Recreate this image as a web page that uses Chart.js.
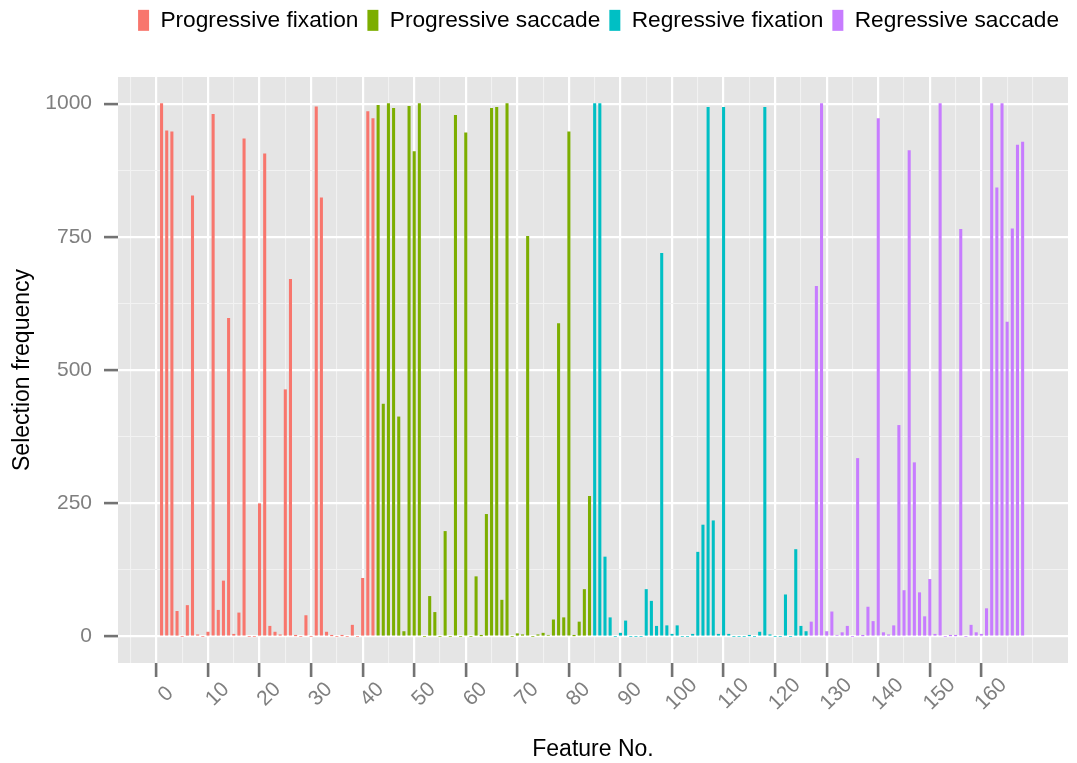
<!DOCTYPE html>
<html>
<head>
<meta charset="utf-8">
<script src="https://cdn.jsdelivr.net/npm/chart.js@4.4.1/dist/chart.umd.min.js"></script>
<style>
  html, body { margin: 0; padding: 0; background: #fff; }
</style>
</head>
<body>
<canvas id="chart" width="1077" height="763"></canvas>
<script>
// Series names and colours (ggplot default hues)
const groupNames = ['Progressive fixation', 'Progressive saccade', 'Regressive fixation', 'Regressive saccade'];
const groupColors = ['#F8766D', '#7CAE00', '#00BFC4', '#C77CFF'];
// first feature number of each group (42 features per group)
const groupStart = [1, 43, 85, 127];

// Selection frequency, features 1-42
const progFixation = [1000, 949, 947, 47, 0, 58, 827, 3, 0, 8,
                      980, 49, 104, 597, 4, 44, 934, 0, 0, 249,
                      906, 19, 8, 3, 463, 670, 1, 0, 39, 0,
                      994, 823, 8, 1, 0, 1, 0, 21, 0, 109,
                      985, 972];
// features 43-84
const progSaccade = [997, 436, 1000, 991, 412, 9, 995, 910, 1000, 0,
                     75, 45, 0, 197, 0, 978, 0, 945, 0, 112,
                     1, 229, 991, 993, 68, 1000, 0, 5, 3, 751,
                     0, 3, 6, 2, 31, 587, 35, 947, 1, 27,
                     88, 263];
// features 85-126
const regFixation = [1000, 1000, 149, 35, 0, 6, 29, 0, 0, 0,
                     88, 66, 19, 719, 20, 4, 20, 0, 0, 4,
                     158, 209, 993, 217, 4, 993, 4, 0, 0, 0,
                     1, 0, 8, 993, 3, 0, 0, 78, 0, 163,
                     19, 9];
// features 127-168
const regSaccade = [27, 657, 1000, 9, 46, 2, 7, 19, 0, 334,
                    1, 55, 28, 972, 7, 3, 20, 396, 86, 912,
                    326, 82, 37, 107, 4, 1000, 0, 1, 1, 764,
                    0, 21, 7, 4, 52, 1000, 842, 1000, 590, 765,
                    922, 928];

const xTickLabels = [0, 10, 20, 30, 40, 50, 60, 70, 80, 90, 100, 110, 120, 130, 140, 150, 160];
const yTickLabels = [0, 250, 500, 750, 1000];

const seriesValues = [progFixation, progSaccade, regFixation, regSaccade];

// grid positions: majors at the labels, minors half way between
const xGrid = [];
for (let v = -5; v <= 170; v += 5) xGrid.push(v);
const yGrid = [];
for (let v = 0; v <= 1000; v += 125) yGrid.push(v);

const FONT = 'Liberation Sans, Arial, Helvetica, sans-serif';
const isMajorX = v => xTickLabels.includes(v);
const isMajorY = v => yTickLabels.includes(v);

// pad short labels with trailing spaces so rotated labels sit centred on the tick
// (a space is half a digit wide)
const padLabel = v => {
    const s = String(v);
    return s + ' '.repeat(3 - s.length);
};

// grey panel behind the plot
const panelBg = {
    id: 'panelBg',
    beforeDraw(chart) {
        const { ctx, chartArea } = chart;
        ctx.save();
        ctx.fillStyle = '#fff';
        ctx.fillRect(0, 0, chart.width, chart.height);
        ctx.fillStyle = '#E5E5E5';
        ctx.fillRect(chartArea.left, chartArea.top, chartArea.right - chartArea.left, chartArea.bottom - chartArea.top);
        ctx.restore();
    }
};

// give the legend a fixed block height so the panel starts where it should
const legendBlock = {
    id: 'legendBlock',
    beforeInit(chart) {
        const fit = chart.legend.fit;
        chart.legend.fit = function () {
            fit.call(this);
            this.height = 77;
        };
    }
};

const datasets = seriesValues.map((vals, g) => ({
    label: groupNames[g],
    data: vals.map((v, i) => ({ x: groupStart[g] + i, y: v })),
    backgroundColor: groupColors[g],
    borderWidth: 0,
    barThickness: 2.4,
    grouped: false
}));

new Chart(document.getElementById('chart'), {
    type: 'bar',
    data: { datasets: datasets },
    plugins: [panelBg, legendBlock],
    options: {
        responsive: false,
        animation: false,
        layout: { padding: { left: 0, right: 9, top: 0, bottom: 0 } },
        plugins: {
            legend: {
                position: 'top',
                align: 'end',
                labels: {
                    boxWidth: 11,
                    boxHeight: 21,
                    padding: 9,
                    color: '#000',
                    font: { size: 22.7, family: FONT }
                }
            },
            tooltip: { enabled: false }
        },
        scales: {
            x: {
                type: 'linear',
                min: -7.45,
                max: 176.8,
                offset: false,
                afterBuildTicks: s => { s.ticks = xGrid.map(v => ({ value: v })); },
                afterFit: s => { s.height = 100; },
                border: { display: false },
                grid: {
                    offset: false,
                    color: c => (c.tick && isMajorX(c.tick.value)) ? '#ffffff' : '#F2F2F2',
                    lineWidth: c => (c.tick && isMajorX(c.tick.value)) ? 2.2 : 1.1,
                    tickLength: 14,
                    tickWidth: 2.6,
                    tickColor: c => (c.tick && isMajorX(c.tick.value)) ? '#737373' : 'rgba(0,0,0,0)'
                },
                ticks: {
                    autoSkip: false,
                    minRotation: 45,
                    maxRotation: 45,
                    padding: -4,
                    labelOffset: 22,
                    color: '#7F7F7F',
                    font: { size: 21, family: FONT },
                    callback: v => isMajorX(v) ? padLabel(v) : ''
                },
                title: {
                    display: true,
                    text: 'Feature No.',
                    color: '#000',
                    font: { size: 23, family: FONT },
                    padding: { top: 0, bottom: 0 }
                }
            },
            y: {
                min: -50,
                max: 1050,
                afterBuildTicks: s => { s.ticks = yGrid.map(v => ({ value: v })); },
                afterFit: s => { s.width = 118; },
                border: { display: false },
                grid: {
                    color: c => (c.tick && isMajorY(c.tick.value)) ? '#ffffff' : '#F2F2F2',
                    lineWidth: c => (c.tick && isMajorY(c.tick.value)) ? 2.2 : 1.1,
                    tickLength: 14,
                    tickWidth: 2.6,
                    tickColor: c => (c.tick && isMajorY(c.tick.value)) ? '#737373' : 'rgba(0,0,0,0)'
                },
                ticks: {
                    padding: 12,
                    color: '#7F7F7F',
                    font: { size: 21, family: FONT },
                    callback: v => isMajorY(v) ? String(v) : ''
                },
                title: {
                    display: true,
                    text: 'Selection frequency',
                    color: '#000',
                    font: { size: 23, family: FONT },
                    padding: { top: 9, bottom: 0 }
                }
            }
        }
    }
});
</script>
</body>
</html>
